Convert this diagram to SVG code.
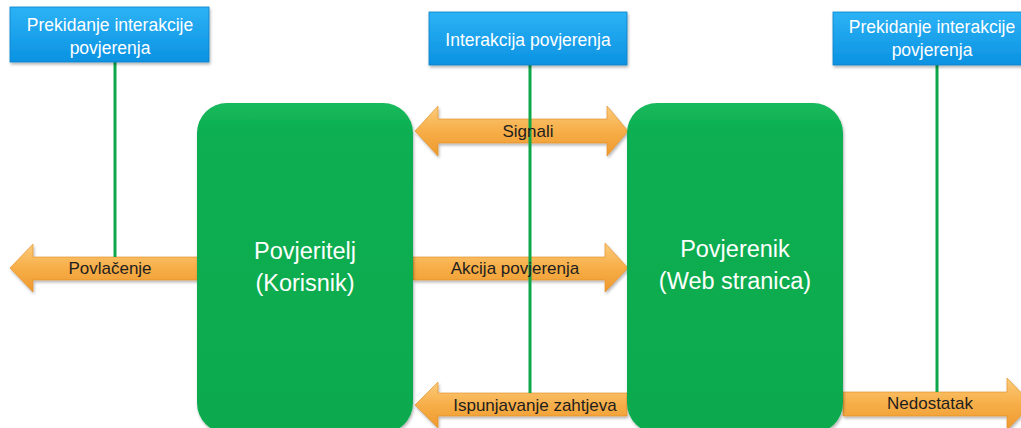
<svg xmlns="http://www.w3.org/2000/svg" width="1021" height="428" viewBox="0 0 1021 428">
<style>
.blue{fill:url(#gBlue);stroke:#0A7FC8;stroke-width:0.8}
.green{fill:url(#gGreen)}
.arrow{fill:url(#gOrange);stroke:#E08A20;stroke-width:0.6}
.vline{stroke:#0DA74A;stroke-width:3;fill:none}
.tb{font-family:"Liberation Sans",Arial,sans-serif;font-size:17.5px;fill:#FFFFFF;text-anchor:middle}
.tg{font-family:"Liberation Sans",Arial,sans-serif;font-size:23.5px;fill:#FFFFFF;text-anchor:middle}
.ta{font-family:"Liberation Sans",Arial,sans-serif;font-size:17px;fill:#1E1E1E;text-anchor:middle}
</style>
<defs>
<linearGradient id="gBlue" x1="0" y1="0" x2="0" y2="1">
<stop offset="0" stop-color="#2DB2F5"/>
<stop offset="1" stop-color="#0A92E2"/>
</linearGradient>
<linearGradient id="gGreen" x1="0" y1="0" x2="0" y2="1">
<stop offset="0" stop-color="#19BA5C"/>
<stop offset="0.08" stop-color="#0DAF52"/>
<stop offset="1" stop-color="#0BAA4E"/>
</linearGradient>
<linearGradient id="gOrange" x1="0" y1="0" x2="0" y2="1">
<stop offset="0" stop-color="#FBCB7A"/>
<stop offset="0.5" stop-color="#F7AE48"/>
<stop offset="1" stop-color="#EE9A2E"/>
</linearGradient>
<filter id="sh" x="-10%" y="-10%" width="120%" height="130%">
<feDropShadow dx="1" dy="2" stdDeviation="1.5" flood-color="#000" flood-opacity="0.3"/>
</filter>
</defs>

<g id="connectors">
<g id="arrow-signali">
<path class="arrow" filter="url(#sh)" d="M415,131 L438,106 L438,119 L607,119 L607,106 L628,131 L607,156 L607,143 L438,143 L438,156 Z"/>
</g>
<g id="arrow-povlacenje">
<path class="arrow" filter="url(#sh)" d="M10,268 L33,244 L33,257 L198,257 L198,280 L33,280 L33,292 Z"/>
</g>
<g id="arrow-akcija">
<path class="arrow" filter="url(#sh)" d="M413,257 L605,257 L605,243 L628,268 L605,292 L605,280 L413,280 Z"/>
</g>
<g id="arrow-ispunjavanje">
<path class="arrow" filter="url(#sh)" d="M415,405 L438,382 L438,393 L627,393 L627,416 L438,416 L438,428 Z"/>
</g>
<g id="arrow-nedostatak">
<path class="arrow" filter="url(#sh)" d="M843,392 L1007,392 L1007,378 L1032,404 L1007,430 L1007,416 L843,416 Z"/>
</g>
<line class="vline" x1="115" y1="62" x2="115" y2="257"/>
<line class="vline" x1="530" y1="65" x2="530" y2="393"/>
<line class="vline" x1="937" y1="65" x2="937" y2="392"/>
<text class="ta" x="528" y="137">Signali</text>
<text class="ta" x="110" y="274">Povlačenje</text>
<text class="ta" x="515" y="274">Akcija povjerenja</text>
<text class="ta" x="535" y="411">Ispunjavanje zahtjeva</text>
<text class="ta" x="930" y="409">Nedostatak</text>
</g>

<g id="node-prekidanje-1">
<rect class="blue" filter="url(#sh)" x="10" y="7" width="199" height="55"/>
<text class="tb" x="110" y="31">Prekidanje interakcije</text>
<text class="tb" x="110" y="54">povjerenja</text>
</g>
<g id="node-interakcija">
<rect class="blue" filter="url(#sh)" x="429" y="12" width="198" height="53"/>
<text class="tb" x="528" y="46">Interakcija povjerenja</text>
</g>
<g id="node-prekidanje-2">
<rect class="blue" filter="url(#sh)" x="833" y="12" width="200" height="53"/>
<text class="tb" x="932" y="33">Prekidanje interakcije</text>
<text class="tb" x="932" y="56">povjerenja</text>
</g>

<g id="node-povjeritelj">
<rect class="green" filter="url(#sh)" x="197" y="103" width="216" height="330" rx="30" ry="30"/>
<text class="tg" x="305" y="259">Povjeritelj</text>
<text class="tg" x="305" y="291">(Korisnik)</text>
</g>
<g id="node-povjerenik">
<rect class="green" filter="url(#sh)" x="627" y="103" width="216" height="330" rx="30" ry="30"/>
<text class="tg" x="735" y="257">Povjerenik</text>
<text class="tg" x="735" y="289">(Web stranica)</text>
</g>
</svg>
